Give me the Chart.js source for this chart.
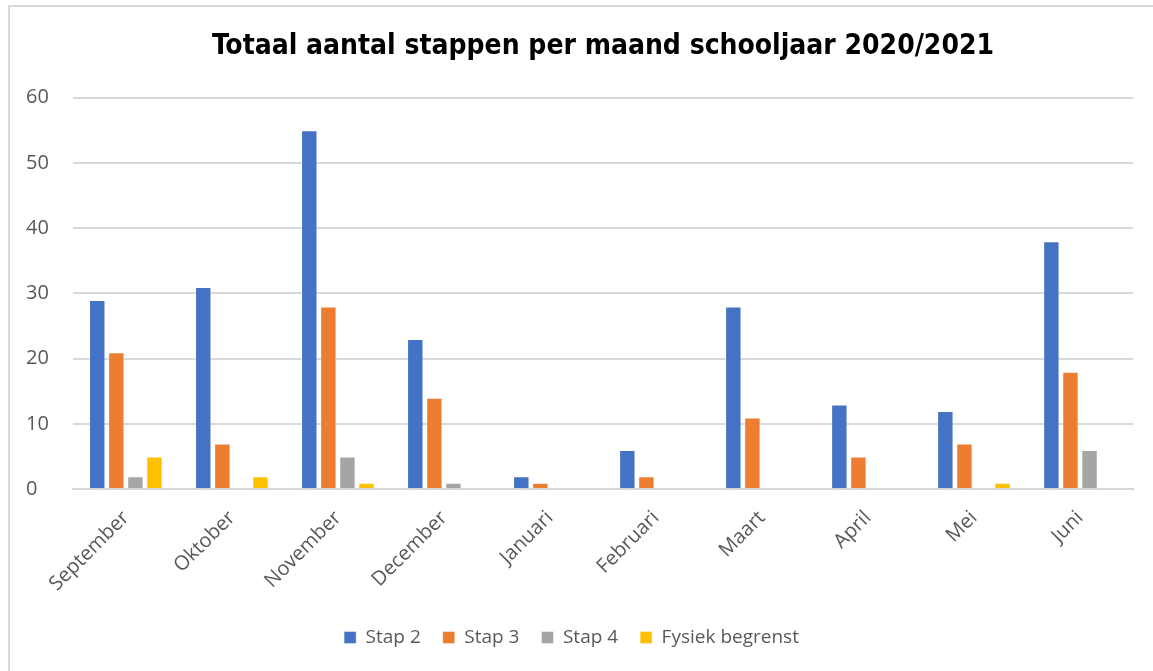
<!DOCTYPE html>
<html>
<head>
<meta charset="utf-8">
<script src="https://cdn.jsdelivr.net/npm/chart.js@4"></script>
<style>
  html, body { margin: 0; padding: 0; background: #fff; }
  #frame {
    position: absolute; left: 8px; top: 5px; width: 1160px; height: 680px;
    border-left: 2px solid #d9d9d9; border-top: 2px solid #d9d9d9;
  }
  #wrap { position: absolute; left: 0; top: 0; width: 1153px; height: 671px; }
</style>
</head>
<body>
<div id="frame"></div>
<div id="wrap"><canvas id="chart"></canvas></div>
<script>
// Data
const months = ['September', 'Oktober', 'November', 'December', 'Januari', 'Februari', 'Maart', 'April', 'Mei', 'Juni'];
const stap2 = [29, 31, 55, 23, 2, 6, 28, 13, 12, 38];
const stap3 = [21, 7, 28, 14, 1, 2, 11, 5, 7, 18];
const stap4 = [2, 0, 5, 1, 0, 0, 0, 0, 0, 6];
const fysiek = [5, 2, 1, 0, 0, 0, 0, 0, 1, 0];
const yTicks = [0, 10, 20, 30, 40, 50, 60];

const tickColor = '#595959';
const gridColor = '#d9d9d9';

function series(label, data, color) {
    return {
        label: label,
        data: data,
        backgroundColor: color,
        borderColor: 'rgba(255,255,255,0.4)',
        borderWidth: 1,
        categoryPercentage: 0.72,
        barPercentage: 0.86
    };
}

// nudge the legend a little to the left, like the original
const legendShift = {
    id: 'legendShift',
    afterLayout(chart) {
        chart.legend.left -= 8;
        chart.legend.right -= 8;
    }
};

new Chart(document.getElementById('chart'), {
    type: 'bar',
    data: {
        labels: months,
        datasets: [
            series('Stap 2', stap2, '#4472c4'),
            series('Stap 3', stap3, '#ed7d31'),
            series('Stap 4', stap4, '#a5a5a5'),
            series('Fysiek begrenst', fysiek, '#ffc000')
        ]
    },
    plugins: [legendShift],
    options: {
        responsive: true,
        maintainAspectRatio: false,
        animation: false,
        layout: { padding: { left: 26, right: 20, top: 30, bottom: 14 } },
        plugins: {
            title: {
                display: true,
                fullSize: false,
                text: 'Totaal aantal stappen per maand schooljaar 2020/2021',
                color: '#000',
                font: { family: 'DejaVu Sans Condensed', size: 28, weight: 'bold' },
                padding: { top: 0, bottom: 34 }
            },
            legend: {
                position: 'bottom',
                labels: {
                    color: tickColor,
                    font: { family: 'Open Sans', size: 19 },
                    boxWidth: 12,
                    boxHeight: 12,
                    padding: 22
                }
            },
            tooltip: { enabled: false }
        },
        scales: {
            x: {
                grid: { display: false },
                border: { display: true, color: gridColor, width: 2 },
                ticks: {
                    color: tickColor,
                    font: { family: 'Open Sans', size: 20 },
                    maxRotation: 45,
                    minRotation: 45,
                    padding: 9
                },
                afterFit: axis => { axis.height += 1; }
            },
            y: {
                min: 0,
                max: 60,
                afterBuildTicks: axis => { axis.ticks = yTicks.map(v => ({ value: v })); },
                grid: { color: gridColor, lineWidth: 2, drawTicks: false },
                border: { display: false },
                ticks: {
                    color: tickColor,
                    font: { family: 'Open Sans', size: 20 },
                    padding: 12,
                    crossAlign: 'far'
                }
            }
        }
    }
});
</script>
</body>
</html>
